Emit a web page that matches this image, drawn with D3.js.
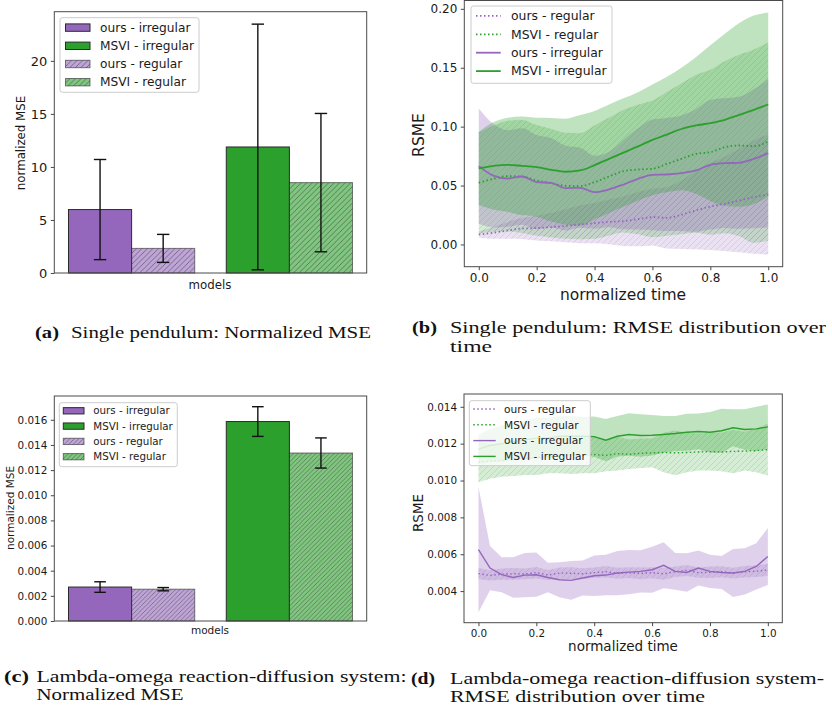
<!DOCTYPE html>
<html>
<head>
<meta charset="utf-8">
<script src="https://cdn.jsdelivr.net/npm/d3@7"></script>
<style>
  body { margin: 0; background: #fff; }
  svg { display: block; }
</style>
</head>
<body>
<svg id="fig" width="832" height="709"></svg>
<script>
// ---------------- data ----------------
const barModels = ["ours", "MSVI"];

// single pendulum, normalized MSE (mean and error half-width)
const pendIrregMean = [5.98, 11.88];
const pendIrregErr  = [4.72, 11.58];
const pendRegMean   = [2.32, 8.52];
const pendRegErr    = [1.32, 6.52];

// lambda-omega reaction-diffusion, normalized MSE
const lamIrregMean = [0.00270, 0.01586];
const lamIrregErr  = [0.00042, 0.00118];
const lamRegMean   = [0.00253, 0.01336];
const lamRegErr    = [0.00013, 0.00120];

const pendMseTicks  = [0, 5, 10, 15, 20];
const lamMseTicks   = [0, 0.002, 0.004, 0.006, 0.008, 0.010, 0.012, 0.014, 0.016];
const timeTicks     = [0, 0.2, 0.4, 0.6, 0.8, 1.0];
const pendRmseTicks = [0, 0.05, 0.10, 0.15, 0.20];
const lamRmseTicks  = [0.004, 0.006, 0.008, 0.010, 0.012, 0.014];

// single pendulum RMSE over normalized time (mean, std)
const pendTime = [0, 0.05, 0.10, 0.15, 0.20, 0.25, 0.30, 0.35, 0.40, 0.45, 0.50,
                  0.55, 0.60, 0.65, 0.70, 0.75, 0.80, 0.85, 0.90, 0.95, 1.00];
const pendOursRegMean = [0.0085, 0.0099, 0.0119, 0.0136, 0.0139, 0.0147, 0.0158, 0.0170, 0.0181, 0.0192, 0.0198,
                         0.0215, 0.0232, 0.0226, 0.0252, 0.0289, 0.0322, 0.0345, 0.0373, 0.0402, 0.0424];
const pendOursRegStd  = [0.0025, 0.0050, 0.0070, 0.0090, 0.0105, 0.0120, 0.0140, 0.0160, 0.0170, 0.0190, 0.0210,
                         0.0230, 0.0240, 0.0260, 0.0290, 0.0330, 0.0370, 0.0400, 0.0440, 0.0480, 0.0510];
const pendMsviRegMean = [0.0523, 0.0557, 0.0580, 0.0577, 0.0543, 0.0520, 0.0498, 0.0495, 0.0529, 0.0577, 0.0622,
                         0.0636, 0.0642, 0.0684, 0.0727, 0.0769, 0.0783, 0.0826, 0.0840, 0.0834, 0.0874];
const pendMsviRegStd  = [0.043, 0.045, 0.047, 0.048, 0.047, 0.046, 0.045, 0.045, 0.048, 0.050, 0.052,
                         0.055, 0.058, 0.061, 0.064, 0.067, 0.070, 0.073, 0.077, 0.082, 0.084];
const pendOursIrrMean = [0.0665, 0.0585, 0.0560, 0.0577, 0.0529, 0.0523, 0.0478, 0.0481, 0.0444, 0.0467, 0.0509,
                         0.0557, 0.0591, 0.0594, 0.0605, 0.0628, 0.0676, 0.0690, 0.0693, 0.0727, 0.0775];
const pendOursIrrStd  = [0.049, 0.044, 0.041, 0.041, 0.040, 0.038, 0.036, 0.034, 0.031, 0.032, 0.038,
                         0.043, 0.047, 0.048, 0.049, 0.052, 0.055, 0.055, 0.056, 0.059, 0.063];
const pendMsviIrrMean = [0.0645, 0.0667, 0.0676, 0.0667, 0.0656, 0.0634, 0.0617, 0.0628, 0.0673, 0.0727, 0.0780,
                         0.0832, 0.0888, 0.0933, 0.0980, 0.1010, 0.1030, 0.1058, 0.1100, 0.1143, 0.1188];
const pendMsviIrrStd  = [0.031, 0.037, 0.040, 0.042, 0.042, 0.044, 0.045, 0.047, 0.046, 0.046, 0.046,
                         0.046, 0.047, 0.049, 0.052, 0.058, 0.066, 0.073, 0.078, 0.080, 0.078];

// lambda-omega RMSE over normalized time (mean, std)
const lamTime = [0, 0.04, 0.08, 0.12, 0.16, 0.20, 0.24, 0.28, 0.32, 0.36, 0.40, 0.44, 0.48,
                 0.52, 0.56, 0.60, 0.64, 0.68, 0.72, 0.76, 0.80, 0.84, 0.88, 0.92, 0.96, 1.00];
const lamOursRegMean = [0.00495, 0.00485, 0.00492, 0.00494, 0.00493, 0.00500, 0.00487, 0.00498, 0.00497, 0.00494, 0.00500, 0.00505, 0.00497,
                        0.00500, 0.00496, 0.00500, 0.00494, 0.00505, 0.00512, 0.00500, 0.00502, 0.00505, 0.00498, 0.00505, 0.00508, 0.00515];
const lamOursRegStd  = [0.00030, 0.00028, 0.00030, 0.00032, 0.00029, 0.00031, 0.00027, 0.00030, 0.00033, 0.00030, 0.00028, 0.00031, 0.00030,
                        0.00029, 0.00032, 0.00030, 0.00033, 0.00029, 0.00030, 0.00028, 0.00031, 0.00030, 0.00029, 0.00031, 0.00032, 0.00033];
const lamMsviRegMean = [0.01100, 0.01105, 0.01110, 0.01120, 0.01120, 0.01125, 0.01130, 0.01130, 0.01140, 0.01140, 0.01141, 0.01136, 0.01146,
                        0.01142, 0.01148, 0.01150, 0.01152, 0.01150, 0.01152, 0.01155, 0.01157, 0.01155, 0.01158, 0.01160, 0.01162, 0.01168];
const lamMsviRegStd  = [0.00110, 0.00095, 0.00090, 0.00095, 0.00090, 0.00095, 0.00090, 0.00090, 0.00105, 0.00100, 0.00101, 0.00086, 0.00091,
                        0.00080, 0.00080, 0.00078, 0.00107, 0.00122, 0.00107, 0.00100, 0.00102, 0.00105, 0.00118, 0.00105, 0.00117, 0.00141];
const lamOursIrrMean = [0.00625, 0.00525, 0.00489, 0.00474, 0.00487, 0.00489, 0.00474, 0.00462, 0.00458, 0.00471, 0.00483, 0.00487, 0.00498,
                        0.00503, 0.00507, 0.00516, 0.00540, 0.00507, 0.00501, 0.00525, 0.00507, 0.00501, 0.00498, 0.00507, 0.00534, 0.00588];
const lamOursIrrStd  = [0.00340, 0.00120, 0.00095, 0.00110, 0.00120, 0.00120, 0.00080, 0.00095, 0.00105, 0.00095, 0.00110, 0.00110, 0.00120,
                        0.00120, 0.00115, 0.00125, 0.00125, 0.00100, 0.00105, 0.00095, 0.00090, 0.00090, 0.00130, 0.00125, 0.00125, 0.00155];
const lamMsviIrrMean = [0.01170, 0.01190, 0.01200, 0.01210, 0.01220, 0.01230, 0.01230, 0.01240, 0.01240, 0.01240, 0.01238, 0.01219, 0.01240,
                        0.01250, 0.01244, 0.01246, 0.01250, 0.01255, 0.01262, 0.01266, 0.01262, 0.01270, 0.01286, 0.01277, 0.01280, 0.01291];
const lamMsviIrrStd  = [0.00080, 0.00090, 0.00100, 0.00100, 0.00105, 0.00110, 0.00110, 0.00110, 0.00110, 0.00105, 0.00110, 0.00115, 0.00110,
                        0.00115, 0.00115, 0.00110, 0.00100, 0.00095, 0.00100, 0.00097, 0.00110, 0.00120, 0.00100, 0.00110, 0.00120, 0.00122];

// ---------------- drawing ----------------
const PURPLE = "#9467bd", GREEN = "#2ca02c";
const SANS = "DejaVu Sans, sans-serif";
const SERIF = "Liberation Serif, Times New Roman, serif";
const INK = "#1a1a1a";

const svg = d3.select("#fig");
const defs = svg.append("defs");

// diagonal "///" hatch made of lines only
function makeHatch(id, color, opacity, step, width) {
  const p = defs.append("pattern").attr("id", id)
    .attr("patternUnits", "userSpaceOnUse")
    .attr("width", step).attr("height", step);
  p.append("path")
    .attr("d", `M0,${step} L${step},0 M${-step / 2},${step / 2} L${step / 2},${-step / 2} M${step / 2},${step * 1.5} L${step * 1.5},${step / 2}`)
    .attr("stroke", color).attr("stroke-opacity", opacity)
    .attr("stroke-width", width).attr("fill", "none");
}
makeHatch("hatchBar", "#2a2a2a", 0.6, 5.5, 0.8);
makeHatch("hatchBarSmall", "#2a2a2a", 0.6, 4.5, 0.7);
makeHatch("hatchPurple", PURPLE, 0.28, 6, 0.7);
makeHatch("hatchGreen", GREEN, 0.28, 6, 0.7);

function styleAxis(g, fs) {
  g.attr("font-family", SANS).attr("font-size", fs);
  g.select(".domain").remove();
  g.selectAll(".tick line").attr("stroke", "#333").attr("stroke-width", 0.9);
  g.selectAll(".tick text").attr("fill", INK);
}

function frame(F) {
  svg.append("rect").attr("x", F.x0).attr("y", F.y0)
    .attr("width", F.x1 - F.x0).attr("height", F.y1 - F.y0)
    .attr("fill", "none").attr("stroke", "#4a4a4a").attr("stroke-width", 1);
}

function label(text, x, y, fs, rotate) {
  const t = svg.append("text").attr("font-family", SANS).attr("font-size", fs)
    .attr("fill", INK).attr("text-anchor", "middle").text(text);
  if (rotate) t.attr("transform", `translate(${x},${y}) rotate(-90)`).attr("dy", "0.35em");
  else t.attr("x", x).attr("y", y);
}

function legendBox(L) {
  svg.append("rect").attr("x", L.x0).attr("y", L.y0)
    .attr("width", L.x1 - L.x0).attr("height", L.y1 - L.y0)
    .attr("rx", 2.5).attr("fill", "#fff").attr("fill-opacity", 0.8)
    .attr("stroke", "#cccccc").attr("stroke-width", 1);
}

function barPanel(P) {
  const F = P.frame;
  const x = d3.scaleLinear().domain([-0.49, 1.49]).range([F.x0, F.x1]);
  const tops = P.irrMean.map((m, i) => m + P.irrErr[i]).concat(P.regMean.map((m, i) => m + P.regErr[i]));
  const y = d3.scaleLinear().domain([0, d3.max(tops) * 1.05]).range([F.y1, F.y0]);
  const g = svg.append("g");
  const w = 0.4;

  barModels.forEach((m, i) => {
    const col = i === 0 ? PURPLE : GREEN;
    g.append("rect")
      .attr("x", x(i - w)).attr("width", x(i) - x(i - w))
      .attr("y", y(P.irrMean[i])).attr("height", y(0) - y(P.irrMean[i]))
      .attr("fill", col).attr("stroke", "#2b2b2b").attr("stroke-width", 1);
    const rx = x(i), rw = x(i + w) - x(i), ry = y(P.regMean[i]), rh = y(0) - y(P.regMean[i]);
    g.append("rect").attr("x", rx).attr("width", rw).attr("y", ry).attr("height", rh)
      .attr("fill", col).attr("fill-opacity", 0.6);
    g.append("rect").attr("x", rx).attr("width", rw).attr("y", ry).attr("height", rh)
      .attr("fill", `url(#${P.hatch})`)
      .attr("stroke", "#2b2b2b").attr("stroke-opacity", 0.6).attr("stroke-width", 1);
  });

  // error bars
  const cap = P.cap;
  function err(cx, m, e) {
    g.append("line").attr("x1", cx).attr("x2", cx).attr("y1", y(m - e)).attr("y2", y(m + e))
      .attr("stroke", "#111").attr("stroke-width", 1.4);
    [m - e, m + e].forEach(v => g.append("line")
      .attr("x1", cx - cap).attr("x2", cx + cap).attr("y1", y(v)).attr("y2", y(v))
      .attr("stroke", "#111").attr("stroke-width", 1.4));
  }
  barModels.forEach((m, i) => {
    err(x(i - w / 2), P.irrMean[i], P.irrErr[i]);
    err(x(i + w / 2), P.regMean[i], P.regErr[i]);
  });

  const ax = svg.append("g").attr("transform", `translate(${F.x0},0)`)
    .call(d3.axisLeft(y).tickValues(P.ticks).tickFormat(P.fmt).tickSize(3.5).tickPadding(3.5));
  styleAxis(ax, P.fsTick);
  frame(F);

  label("models", P.xlab[0], P.xlab[1], P.fsLabel, false);
  label("normalized MSE", P.ylab[0], P.ylab[1], P.fsLabel, true);

  // legend
  const L = P.legend;
  legendBox(L);
  const items = [
    { name: "ours - irregular", col: PURPLE, hatched: false },
    { name: "MSVI - irregular", col: GREEN, hatched: false },
    { name: "ours - regular", col: PURPLE, hatched: true },
    { name: "MSVI - regular", col: GREEN, hatched: true }
  ];
  items.forEach((it, k) => {
    const cy = L.row0 + k * L.rowStep;
    const r = { x: L.px0, y: cy - L.ph / 2, w: L.px1 - L.px0, h: L.ph };
    if (!it.hatched) {
      svg.append("rect").attr("x", r.x).attr("y", r.y).attr("width", r.w).attr("height", r.h)
        .attr("fill", it.col).attr("stroke", "#2b2b2b").attr("stroke-width", 1);
    } else {
      svg.append("rect").attr("x", r.x).attr("y", r.y).attr("width", r.w).attr("height", r.h)
        .attr("fill", it.col).attr("fill-opacity", 0.6);
      svg.append("rect").attr("x", r.x).attr("y", r.y).attr("width", r.w).attr("height", r.h)
        .attr("fill", `url(#${P.hatch})`).attr("stroke", "#2b2b2b").attr("stroke-opacity", 0.6).attr("stroke-width", 1);
    }
    svg.append("text").attr("x", L.tx).attr("y", cy).attr("dy", "0.35em")
      .attr("font-family", SANS).attr("font-size", L.fs).attr("fill", INK).text(it.name);
  });
}

function rmsePanel(P) {
  const F = P.frame;
  const x = d3.scaleLinear().domain([-0.05, 1.05]).range([F.x0, F.x1]);
  let lo = Infinity, hi = -Infinity;
  P.series.forEach(s => s.mean.forEach((m, i) => {
    lo = Math.min(lo, m - s.std[i]); hi = Math.max(hi, m + s.std[i]);
  }));
  const pad = (hi - lo) * 0.05;
  const y = d3.scaleLinear().domain([lo - pad, hi + pad]).range([F.y1, F.y0]);
  const g = svg.append("g");

  // shaded spread bands first, mean curves on top
  P.series.forEach(s => {
    const area = d3.area().curve(P.curve)
      .x((d, i) => x(P.time[i]))
      .y0((d, i) => y(s.mean[i] - s.std[i]))
      .y1((d, i) => y(s.mean[i] + s.std[i]));
    g.append("path").datum(s.mean).attr("d", area)
      .attr("fill", s.color).attr("fill-opacity", s.dotted ? 0.2 : 0.3);
    if (s.dotted) {
      g.append("path").datum(s.mean).attr("d", area).attr("fill", `url(#${s.hatch})`);
    }
  });
  P.series.forEach(s => {
    const line = d3.line().curve(P.curve).x((d, i) => x(P.time[i])).y(d => y(d));
    const path = g.append("path").datum(s.mean).attr("d", line)
      .attr("fill", "none").attr("stroke", s.color).attr("stroke-width", P.lw);
    if (s.dotted) path.attr("stroke-dasharray", "1.5,2.5");
  });

  const ay = svg.append("g").attr("transform", `translate(${F.x0},0)`)
    .call(d3.axisLeft(y).tickValues(P.yticks).tickFormat(P.yfmt).tickSize(3.5).tickPadding(3.5));
  styleAxis(ay, P.fsTick);
  const ax = svg.append("g").attr("transform", `translate(0,${F.y1})`)
    .call(d3.axisBottom(x).tickValues(timeTicks).tickFormat(d3.format(".1f")).tickSize(3.5).tickPadding(3.5));
  styleAxis(ax, P.fsTick);
  frame(F);

  label("normalized time", P.xlab[0], P.xlab[1], P.fsLabel, false);
  label("RSME", P.ylab[0], P.ylab[1], P.fsLabel, true);

  const L = P.legend;
  legendBox(L);
  P.series.forEach((s, k) => {
    const cy = L.row0 + k * L.rowStep;
    const ln = svg.append("line").attr("x1", L.sx0).attr("x2", L.sx1).attr("y1", cy).attr("y2", cy)
      .attr("stroke", s.color).attr("stroke-width", P.lw);
    if (s.dotted) ln.attr("stroke-dasharray", "1.5,2.5");
    svg.append("text").attr("x", L.tx).attr("y", cy).attr("dy", "0.35em")
      .attr("font-family", SANS).attr("font-size", L.fs).attr("fill", INK).text(s.name);
  });
}

// (a) single pendulum bars
barPanel({
  frame: { x0: 54.3, x1: 366.7, y0: 11.7, y1: 273 },
  irrMean: pendIrregMean, irrErr: pendIrregErr, regMean: pendRegMean, regErr: pendRegErr,
  ticks: pendMseTicks, fmt: d3.format("d"), fsTick: 13, fsLabel: 11.8,
  xlab: [210, 289], ylab: [21, 143], cap: 6.2, hatch: "hatchBar",
  legend: { x0: 60, x1: 199, y0: 17.7, y1: 92.3, row0: 27.6, rowStep: 18.2,
            px0: 65.5, px1: 90, ph: 7.4, tx: 100, fs: 12.2 }
});

// (b) single pendulum RMSE
rmsePanel({
  frame: { x0: 464.3, x1: 782.7, y0: 0.5, y1: 266.7 },
  time: pendTime, curve: d3.curveMonotoneX, lw: 1.8,
  series: [
    { name: "ours - regular", color: PURPLE, dotted: true, hatch: "hatchPurple", mean: pendOursRegMean, std: pendOursRegStd },
    { name: "MSVI - regular", color: GREEN, dotted: true, hatch: "hatchGreen", mean: pendMsviRegMean, std: pendMsviRegStd },
    { name: "ours - irregular", color: PURPLE, dotted: false, mean: pendOursIrrMean, std: pendOursIrrStd },
    { name: "MSVI - irregular", color: GREEN, dotted: false, mean: pendMsviIrrMean, std: pendMsviIrrStd }
  ],
  yticks: pendRmseTicks, yfmt: d3.format(".2f"), fsTick: 12, fsLabel: 15.5,
  xlab: [623, 300], ylab: [419, 135],
  legend: { x0: 471, x1: 612, y0: 6, y1: 83.3, row0: 15.9, rowStep: 18.4,
            sx0: 476, sx1: 500.7, tx: 511, fs: 12.4 }
});

// (c) lambda-omega bars
barPanel({
  frame: { x0: 54.3, x1: 366.7, y0: 396, y1: 621 },
  irrMean: lamIrregMean, irrErr: lamIrregErr, regMean: lamRegMean, regErr: lamRegErr,
  ticks: lamMseTicks, fmt: d3.format(".3f"), fsTick: 10.4, fsLabel: 10.5,
  xlab: [210, 634], ylab: [10, 508], cap: 5.8, hatch: "hatchBarSmall",
  legend: { x0: 59.3, x1: 177.3, y0: 402.7, y1: 466.7, row0: 410.8, rowStep: 15.3,
            px0: 63.3, px1: 84, ph: 6.3, tx: 93.3, fs: 10.3 }
});

// (d) lambda-omega RMSE
rmsePanel({
  frame: { x0: 464, x1: 782.3, y0: 394, y1: 622.7 },
  time: lamTime, curve: d3.curveLinear, lw: 1.4,
  series: [
    { name: "ours - regular", color: PURPLE, dotted: true, hatch: "hatchPurple", mean: lamOursRegMean, std: lamOursRegStd },
    { name: "MSVI - regular", color: GREEN, dotted: true, hatch: "hatchGreen", mean: lamMsviRegMean, std: lamMsviRegStd },
    { name: "ours - irregular", color: PURPLE, dotted: false, mean: lamOursIrrMean, std: lamOursIrrStd },
    { name: "MSVI - irregular", color: GREEN, dotted: false, mean: lamMsviIrrMean, std: lamMsviIrrStd }
  ],
  yticks: lamRmseTicks, yfmt: d3.format(".3f"), fsTick: 10.4, fsLabel: 13.5,
  xlab: [623, 651], ylab: [418, 513],
  legend: { x0: 469.3, x1: 590.3, y0: 400.7, y1: 465.7, row0: 409, rowStep: 15.8,
            sx0: 473.3, sx1: 495.7, tx: 504, fs: 10.6 }
});

// ---------------- captions ----------------
// each caption line is stretched to its typeset width
function caption(tag, tagX, tagLen, y, lines) {
  const fs = 16.5;
  svg.append("text").attr("x", tagX).attr("y", y).attr("font-family", SERIF)
    .attr("font-size", fs).attr("font-weight", "bold").attr("fill", "#111")
    .attr("textLength", tagLen).attr("lengthAdjust", "spacingAndGlyphs").text(tag);
  lines.forEach(l => {
    svg.append("text").attr("x", l.x).attr("y", l.y).attr("font-family", SERIF)
      .attr("font-size", fs).attr("fill", "#111")
      .attr("textLength", l.len).attr("lengthAdjust", "spacingAndGlyphs").text(l.text);
  });
}
caption("(a)", 35, 24, 338, [{ text: "Single pendulum: Normalized MSE", x: 71, y: 338, len: 300 }]);
caption("(b)", 412, 25, 333, [
  { text: "Single pendulum:  RMSE distribution over", x: 450, y: 333, len: 376 },
  { text: "time", x: 450, y: 352, len: 42 }
]);
caption("(c)", 4, 25, 682, [
  { text: "Lambda-omega  reaction-diffusion  system:", x: 36.5, y: 682, len: 370 },
  { text: "Normalized MSE", x: 36.5, y: 700, len: 147 }
]);
caption("(d)", 411, 24, 684, [
  { text: "Lambda-omega  reaction-diffusion  system-", x: 450, y: 684, len: 374 },
  { text: "RMSE distribution over time", x: 450, y: 702, len: 255 }
]);
</script>
</body>
</html>
